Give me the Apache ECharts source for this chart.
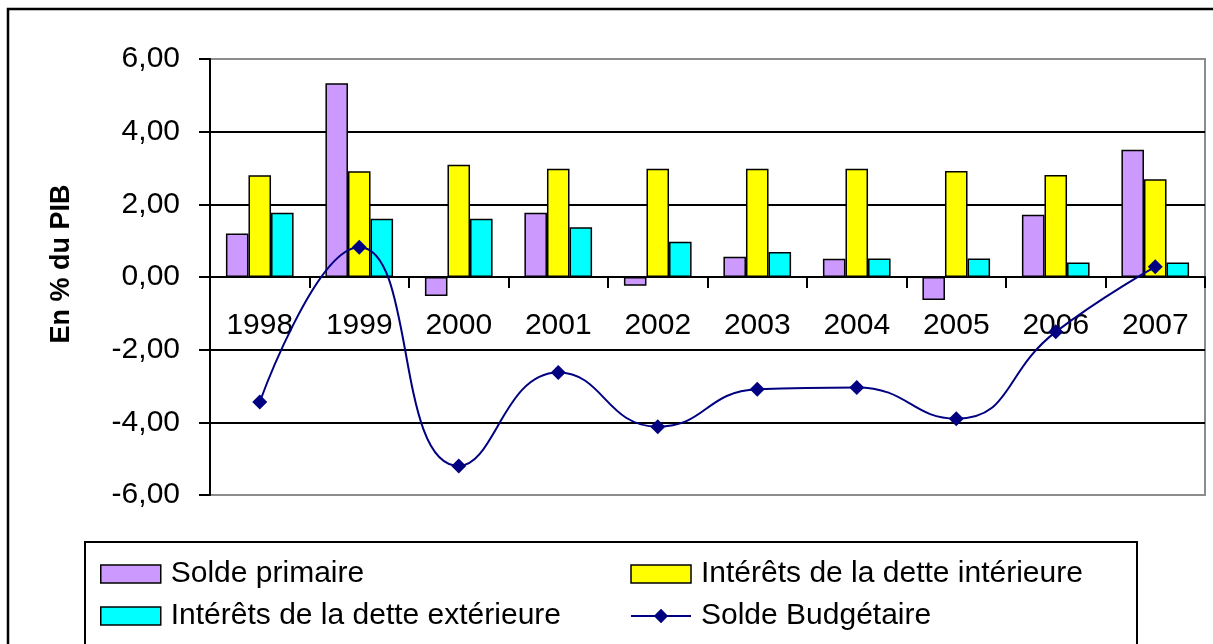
<!DOCTYPE html>
<html>
<head>
<meta charset="utf-8">
<script src="https://cdn.jsdelivr.net/npm/echarts@6/dist/echarts.min.js"></script>
<style>
  html, body { margin: 0; padding: 0; background: #fff; }
  #chart { width: 1213px; height: 644px; }
</style>
</head>
<body>
<div id="chart"></div>
<script>
// data (% du PIB)
var years = ["1998", "1999", "2000", "2001", "2002", "2003", "2004", "2005", "2006", "2007"];
var soldePrimaire = [1.20, 5.33, -0.52, 1.77, -0.24, 0.56, 0.50, -0.63, 1.71, 3.50];
var interetsInterieure = [2.80, 2.91, 3.09, 2.98, 2.98, 2.98, 2.98, 2.92, 2.81, 2.69];
var interetsExterieure = [1.77, 1.60, 1.60, 1.37, 0.97, 0.69, 0.51, 0.51, 0.40, 0.40];
var soldeBudgetaire = [-3.44, 0.82, -5.20, -2.63, -4.12, -3.09, -3.04, -3.90, -1.51, 0.28];

var FONT = "Liberation Sans, Arial, sans-serif";

var legendText = {
  fontSize: 30,
  color: "#000",
  fontFamily: FONT,
  padding: [0, 0, 0, 5],
};
var boxStyle = { borderColor: "#000", borderWidth: 1.5 };

var option = {
  animation: false,
  backgroundColor: "#fff",
  textStyle: { fontFamily: FONT },
  grid: {
    left: 210,
    top: 59,
    right: 8,
    bottom: 149,
    show: true,
    borderColor: "#8c8c8c",
    borderWidth: 2,
  },
  xAxis: {
    type: "category",
    data: years,
    position: "bottom",
    // move the axis from the -6 line up to the zero line
    offset: -218,
    axisLine: {
      onZero: false,
      lineStyle: { color: "#000", width: 2 },
    },
    axisTick: {
      show: true,
      length: 11,
      lineStyle: { color: "#000", width: 2 },
    },
    axisLabel: {
      color: "#000",
      fontSize: 30,
      margin: 34,
      fontFamily: FONT,
    },
  },
  yAxis: {
    type: "value",
    min: -6,
    max: 6,
    interval: 2,
    name: "En % du PIB",
    nameLocation: "middle",
    nameGap: 135,
    nameTextStyle: {
      fontSize: 27,
      fontWeight: "bold",
      color: "#000",
      fontFamily: FONT,
      padding: [0, 0, 0, 26],
    },
    axisLine: {
      show: true,
      lineStyle: { color: "#000", width: 2 },
    },
    axisTick: {
      show: true,
      length: 11,
      lineStyle: { color: "#000", width: 2 },
    },
    axisLabel: {
      color: "#000",
      fontSize: 30,
      margin: 30,
      fontFamily: FONT,
      formatter: function (v) {
        return v.toFixed(2).replace(".", ",");
      },
    },
    splitLine: {
      show: true,
      lineStyle: {
        // -6 and 6 are grey, inner lines black
        color: ["#8c8c8c", "#000", "#000", "#000", "#000", "#000", "#8c8c8c"],
        width: 2,
      },
    },
  },
  legend: [
    {
      left: 95,
      top: 554,
      orient: "vertical",
      itemWidth: 60,
      itemHeight: 18,
      itemGap: 12,
      data: [
        { name: "Solde primaire", icon: "rect", itemStyle: boxStyle },
        { name: "Intérêts de la dette extérieure", icon: "rect", itemStyle: boxStyle },
      ],
      textStyle: legendText,
    },
    {
      left: 625,
      top: 554,
      orient: "vertical",
      itemWidth: 60,
      itemHeight: 18,
      itemGap: 12,
      data: [
        { name: "Intérêts de la dette intérieure", icon: "rect", itemStyle: boxStyle },
        { name: "Solde Budgétaire" },
      ],
      textStyle: legendText,
    },
  ],
  graphic: [
    {
      type: "rect",
      shape: { x: 8, y: 9, width: 1212, height: 660 },
      style: { fill: "none", stroke: "#000", lineWidth: 2.5 },
      silent: true,
    },
    {
      type: "rect",
      shape: { x: 85, y: 542, width: 1052, height: 120 },
      style: { fill: "none", stroke: "#000", lineWidth: 2 },
      silent: true,
    },
  ],
  series: [
    {
      name: "Solde primaire",
      type: "bar",
      data: soldePrimaire,
      barGap: "0%",
      barCategoryGap: "32%",
      itemStyle: { color: "#CC99FF", borderColor: "#000", borderWidth: 1.5 },
    },
    {
      name: "Intérêts de la dette intérieure",
      type: "bar",
      data: interetsInterieure,
      barGap: "0%",
      barCategoryGap: "32%",
      itemStyle: { color: "#FFFF00", borderColor: "#000", borderWidth: 1.5 },
    },
    {
      name: "Intérêts de la dette extérieure",
      type: "bar",
      data: interetsExterieure,
      barGap: "0%",
      barCategoryGap: "32%",
      itemStyle: { color: "#00FFFF", borderColor: "#000", borderWidth: 1.5 },
    },
    {
      name: "Solde Budgétaire",
      type: "line",
      data: soldeBudgetaire,
      smooth: 0.5,
      symbol: "diamond",
      symbolSize: 15,
      lineStyle: { color: "#000080", width: 2 },
      itemStyle: { color: "#000080" },
      z: 5,
    },
  ],
};

var chart = echarts.init(document.getElementById("chart"));
chart.setOption(option);
</script>
</body>
</html>
